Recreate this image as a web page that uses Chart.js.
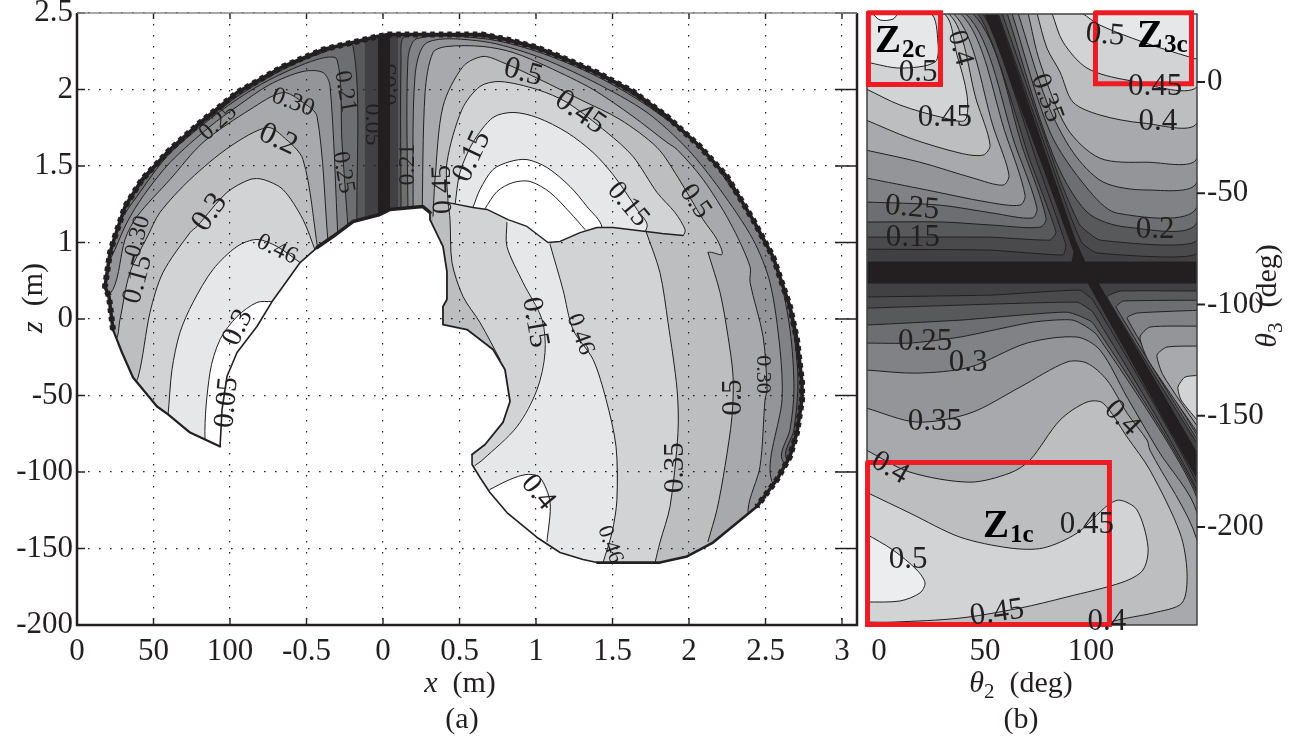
<!DOCTYPE html>
<html><head><meta charset="utf-8">
<style>html,body{margin:0;padding:0;background:#fff;width:1314px;height:740px;overflow:hidden}canvas{position:absolute;top:0}</style>
<script src="https://cdn.jsdelivr.net/npm/chart.js@4"></script>
</head><body>
<canvas id="a" width="862" height="740" style="left:0"></canvas>
<canvas id="b" width="452" height="740" style="left:862px"></canvas>
<script>
const greys=['#231f20','#414042','#58595b','#6d6e71','#808285','#939598','#a7a9ac','#bcbec0','#d1d3d4','#e6e7e8','#ffffff'];
const ink='#231f20', red='#ed1c24', serif="'Liberation Serif'";

/* ---- tick labels ---- */
const xTicksA=[-2,-1.5,-1,-.5,0,.5,1,1.5,2,2.5,3];
const xLabelsA=['0','50','100','-0.5','0','0.5','1','1.5','2','2.5','3'];
const yTicksA=[2.5,2,1.5,1,.5,0,-.5,-1,-1.5];
const yLabelsA=['2.5','2','1.5','1','0','-50','-100','-150','-200'];
const xTicksB=[0,50,100];
const yTicksB=[0,-50,-100,-150,-200];

/* ---- panel (a): workspace outline, x,z in metres ---- */
const edgeLowerLeft=[[-1.065,-.333],[-1.163,-.288],[-1.261,-.242],[-1.405,-.124],[-1.477,-.072],[-1.634,.118],[-1.706,.281],[-1.765,.431]];
const edgeOuter=[[-1.765,.431],[-1.791,.647],[-1.817,.712],[-1.784,.935],[-1.752,1.039],[-1.686,1.235],[-1.575,1.412],[-1.392,1.608],[-1.196,1.784],[-.954,1.98],[-.654,2.15],[-.392,2.261],[-.17,2.314],[-.039,2.346],[.033,2.359],[.654,2.359],[.81,2.327],[1.007,2.275],[1.203,2.196],[1.399,2.111],[1.634,1.987],[1.856,1.824],[2.072,1.627],[2.248,1.431],[2.418,1.15],[2.549,.908],[2.66,.582],[2.706,.366],[2.739,.085],[2.739,-.026],[2.706,-.242],[2.66,-.399],[2.575,-.549],[2.444,-.725]];
const edgeLowerRight=[[2.444,-.725],[2.157,-.961],[1.987,-1.052],[1.81,-1.092],[1.399,-1.092]];
const edgeBottom=[[1.399,-1.092],[1.307,-1.072],[1.157,-1.026],[1.007,-.928],[.81,-.765],[.699,-.634],[.634,-.536],[.582,-.451],[.582,-.386]];
const edgeInnerRight=[[.582,-.386],[.667,-.32],[.784,-.176],[.83,-.039],[.797,.17],[.719,.301],[.549,.431],[.392,.464],[.392,.582],[.418,.627],[.418,.81],[.392,.974],[.307,1.15],[.307,1.196]];
const edgeHoleTop=[[.307,1.196],[.261,1.235],[.046,1.216],[-.02,1.183],[-.196,1.137],[-.327,1.039],[-.431,.967]];
const edgeInnerLeft=[[-.431,.967],[-.542,.869],[-.654,.712],[-.725,.614],[-.824,.451],[-.954,.281],[-1.02,.124],[-1.052,-.092],[-1.065,-.333]];

/* ---- panel (a): contour levels, upper right sheet ---- */
const rF=[[.098,1.15],[.098,2.4],[3,2.4],[3,-1.4]];
const rG=[[.046,1.15],[.046,2.45],[3,2.45],[3,-1.4]];
const rE=[[.118,1.15],[.118,2.196],[.144,2.346],[.654,2.346],[1.007,2.261],[1.399,2.098],[1.634,1.967],[1.856,1.804],[2.105,1.569],[2.261,1.412],[2.431,1.137],[2.569,.876],[2.673,.484],[2.712,.105],[2.686,-.222],[2.634,-.405]];
const rD=[[.163,1.15],[.163,2.196],[.222,2.333],[.654,2.333],[1.007,2.248],[1.399,2.085],[1.745,1.882],[2.092,1.608],[2.248,1.399],[2.444,1.111],[2.575,.837],[2.66,.431],[2.686,.039],[2.66,-.222],[2.608,-.418]];
const rC=[[.196,1.15],[.209,2.085],[.288,2.307],[.654,2.314],[1.007,2.216],[1.373,2.052],[1.725,1.85],[1.993,1.608],[2.203,1.346],[2.418,1.02],[2.529,.739],[2.595,.301],[2.608,-.026],[2.542,-.562]];
const rB=[[.255,1.15],[.275,1.98],[.327,2.242],[.418,2.281],[.654,2.281],[.85,2.242],[1.072,2.15],[1.373,2],[1.634,1.824],[1.856,1.654],[1.922,1.608],[2.092,1.412],[2.268,1.131],[2.399,.843],[2.399,.739],[2.484,.386],[2.51,.039],[2.497,-.026],[2.464,-.464],[2.386,-.745]];
const topA=[[.327,1.17],[.34,1.412],[.392,1.889],[.523,2.15],[.654,2.216],[.784,2.176],[1.026,2.065],[1.288,1.935],[1.549,1.804],[1.791,1.621],[1.928,1.425],[2.092,1.15],[2.183,1.02],[2.216,.922],[2.124,.935]];
const topD=[[.425,1.261],[.418,1.523],[.516,1.869],[.634,2.02],[.765,2.052],[1.007,2],[1.203,1.915],[1.464,1.719],[1.634,1.562],[1.791,1.327],[1.908,1.196],[1.974,1.085],[1.961,1.046]];
const topE=[[.471,1.248],[.503,1.458],[.588,1.654],[.719,1.817],[.85,1.85],[1.007,1.817],[1.203,1.719],[1.373,1.588],[1.503,1.444],[1.66,1.216],[1.725,1.098]];
const topW=[[.588,1.229],[.634,1.346],[.719,1.477],[.83,1.529],[.941,1.542],[1.072,1.49],[1.222,1.366],[1.333,1.235],[1.431,1.098]];
const topInner=[[.667,1.222],[.745,1.333],[.85,1.392],[.961,1.399],[1.092,1.327],[1.222,1.196],[1.32,1.085]];

/* ---- panel (a): seam and lower sheet ---- */
const seam=[[.425,1.261],[.588,1.229],[.68,1.216],[.817,1.15],[.941,1.105],[1.078,1],[1.157,1.007],[1.288,1.065],[1.399,1.098],[1.503,1.098],[1.719,1.072],[1.824,1.059],[1.961,1.046]];
const low05=[[2.124,.935],[2.203,.673],[2.255,.386],[2.288,.124],[2.281,-.137],[2.235,-.464],[2.183,-.745],[2.124,-.954]];
const low035=[[1.719,1.072],[1.81,.804],[1.863,.477],[1.922,.039],[1.928,-.242],[1.876,-.725],[1.81,-.961],[1.778,-1.092]];
const low046=[[1.092,.987],[1.176,.693],[1.242,.431],[1.373,.235],[1.458,-.026],[1.523,-.333],[1.529,-.68],[1.497,-.895],[1.438,-1.092]];
const low015=[[.81,1.131],[.81,.974],[.915,.739],[1.039,.497],[1.059,.281],[1.007,.039],[.876,-.203],[.654,-.418],[.601,-.458]];
const lowFar=[[.425,1.261],[.438,1.15],[.451,.869],[.523,.647],[.634,.477],[.765,.235]];
const lowWhite=[[.699,-.614],[.83,-.549],[.941,-.516],[1.026,-.536],[1.092,-.699],[1.072,-.954]];

/* ---- panel (a): contour levels, left sheet ---- */
const c1=[[-.033,1.1],[-.033,2.45]];
const c2=[[-.118,1.1],[-.118,2.45]];
const c3=[[-.17,1.1],[-.196,2.281],[-.392,2.242],[-.654,2.131],[-.954,1.954],[-1.196,1.765],[-1.392,1.588],[-1.575,1.392],[-1.686,1.216],[-1.752,1.02]];
const c4=[[-.229,1.1],[-.268,1.654],[-.301,2.196],[-.431,2.196],[-.739,2.065],[-.954,1.935],[-1.176,1.771],[-1.412,1.562],[-1.608,1.301],[-1.719,1.131]];
const c5=[[-.294,1.02],[-.346,2.02],[-.392,2.111],[-.523,2.118],[-.739,2.033],[-.954,1.889],[-1.131,1.758],[-1.392,1.523],[-1.569,1.301],[-1.673,1.131],[-1.752,.954]];
const c6=[[-.359,1],[-.431,1.824],[-.523,1.915],[-.654,1.98],[-.869,1.869],[-1.176,1.654],[-1.392,1.412],[-1.608,1.17],[-1.686,1.02],[-1.765,.693]];
const c7=[[-.425,.95],[-.523,1.542],[-.654,1.693],[-.758,1.752],[-1,1.627],[-1.261,1.412],[-1.458,1.196],[-1.536,1.046],[-1.654,.804],[-1.719,.497],[-1.752,.366]];
const c8=[[-.44,.94],[-.523,1.15],[-.654,1.346],[-.784,1.412],[-.869,1.412],[-1.02,1.327],[-1.216,1.105],[-1.261,1.065],[-1.438,.804],[-1.523,.542],[-1.601,.118]];
const c46=[[-.542,.869],[-.693,.974],[-.824,1.02],[-.954,.974],[-1.111,.824],[-1.242,.608],[-1.327,.412],[-1.379,.17],[-1.405,-.124]];
const cW=[[-.725,.614],[-.824,.608],[-.954,.516],[-1.065,.366],[-1.131,.15],[-1.163,-.288]];

/* ---- panel (b): theta2, theta3 in degrees ---- */
const u0=[[-3.3,31],[.5,27.9],[6.6,28.3],[9,31]];
const u1=[[-6,9],[9.9,6.3],[26.4,9],[27.8,18],[24.1,31]];
const u2=[[-6,-3.1],[9.9,-10.3],[31.1,-16.2],[40.6,-17.1],[41.5,-5.8],[36.8,12.1],[30.2,31]];
const u3=[[-6,-17.1],[14.6,-25.2],[38.2,-31.9],[49.1,-32.8],[52.4,-28.3],[46.2,-9],[32.5,31]];
const u4=[[-6,-30.6],[19.3,-36],[44.3,-43.1],[58.5,-46.3],[61.3,-41.8],[54.7,-22.5],[34.9,31]];
const u5=[[-6,-43.1],[22.6,-48.5],[50.9,-53.9],[66.5,-55.3],[68.9,-50.8],[60.4,-25.2],[38.2,31]];
const u6=[[-6,-53.9],[28.8,-55.3],[53.8,-58.9],[72.2,-61.1],[74.5,-56.6],[65.1,-30.6],[40.6,31]];
const u7=[[-6,-62.9],[30.2,-62.9],[53.8,-64.3],[75.9,-65.2],[78.8,-61.1],[68.9,-32.8],[43.9,31]];
const u8=[[-6,-69.7],[52.4,-69.7],[80.7,-71],[83.5,-67.4],[71.2,-35.1],[46.2,31]];
const u9=[[-6,-75.1],[52.4,-75.5],[86.8,-77.7],[88.2,-73.3],[75,-37.3],[48.6,31]];
const u10=[[-6,-80.9],[91,-80.9],[92,-76.4],[75.9,-34.2],[50,31]];
const r0=[[95.8,31],[104.2,25.6],[124.5,18],[146.7,11.2],[150,10.8]];
const r1=[[81.6,31],[86.8,18],[98.1,6.3],[117,.9],[150,-2.2]];
const r2=[[74.5,31],[79.2,15.3],[85.4,4.5],[91.5,-9],[104.2,-14.8],[124.5,-18.4],[150,-18.4]];
const r3=[[70.3,31],[75.9,9],[88.7,-20.7],[104.2,-34.2],[126.4,-36],[150,-34.2]];
const r4=[[65.6,31],[79.2,-9],[91.5,-31.5],[105.7,-44.9],[126.4,-48.5],[150,-44.9]];
const r5=[[62.7,31],[80.7,-22.5],[98.1,-47.6],[112.3,-58.9],[150,-56.2]];
const r6=[[60.4,31],[82.1,-32.8],[98.1,-58.4],[117,-65.2],[150,-62.9]];
const r7=[[58,31],[85.4,-44],[94.8,-64.3],[104.2,-71],[150,-71]];
const r8=[[56.1,31],[89.2,-57.5],[95.8,-72.4],[102.8,-76.8],[150,-76.8]];
const r9=[[55.7,31],[92.5,-71],[97.2,-80.9],[150,-80.9]];
const k0=[[152,-170],[103.3,-90.3],[152,-90.3]];
const k1=[[152,-165.4],[107.5,-96.6],[113.7,-93.9],[152,-93.9]];
const k2=[[152,-163.6],[111.8,-101.1],[115.1,-98.4],[152,-98]];
const k3=[[152,-161.8],[117,-106.1],[121.7,-103.8],[152,-102.5]];
const k4=[[152,-160],[126.9,-124.9],[123.1,-114.6],[127.8,-110.1],[152,-109.7]];
const k5=[[152,-157.3],[134,-131.7],[131.1,-122.7],[135.8,-119.1],[152,-118.6]];
const k6=[[152,-154.1],[142.5,-142.9],[141,-137.1],[144.3,-132.6],[152,-131.7]];
const m1=[[-6,-90.3],[98.6,-90.3],[150,-178]];
const m2=[[-6,-96.6],[53.8,-95.7],[94.8,-93.5],[100.9,-98],[150,-181]];
const m3=[[-6,-101.6],[93.4,-98.9],[100.9,-103.4],[150,-183.8]];
const m4=[[-6,-109.2],[38.2,-107],[88.7,-103.4],[100.9,-108.3],[150,-185.2]];
const m5=[[-6,-117.3],[14.6,-117.3],[38.2,-114.6],[72.6,-107.9],[91.5,-107],[102.8,-113.7],[150,-186.9]];
const m6=[[-6,-129.4],[17.9,-130.8],[42.9,-128.1],[69.8,-117.3],[93.4,-114.6],[104.2,-120.4],[117,-141.6],[131.6,-165.4],[150,-193.7]];
const m7=[[-6,-146.5],[17.9,-152.8],[42.9,-148.8],[66.5,-137.1],[88.7,-125.8],[98.1,-126.3],[107.5,-133.9],[117,-148.8],[126.4,-160.9],[127.8,-165.4],[150,-205.8]];
const m8=[[-6,-165.4],[14.6,-175.3],[42.9,-179.8],[61.8,-175.7],[71.2,-169.9],[85.4,-151.9],[98.1,-143.8],[105.7,-144.3],[117,-159.5],[127.8,-174.4],[142,-202.7],[145.3,-220.7],[142.9,-234.1],[129.3,-238.6],[117,-240.9],[108,-243.1],[104.2,-246.3],[-6,-246.3]];
const m9=[[-6,-184.3],[14.6,-193.7],[38.2,-204.5],[61.8,-209.4],[77.4,-209.4],[93.4,-202.7],[108,-190.1],[113.7,-187.9],[121.7,-192.3],[126.9,-209],[124.5,-219.3],[115.1,-224.7],[88.7,-231.4],[66.5,-236.4],[38.2,-240.9],[6.6,-242.7],[-6,-242.7]];
const m10=[[-6,-203.1],[6.6,-210.3],[17.9,-219.3],[21.7,-225.1],[19.3,-229.6],[9.9,-233.2],[-6,-233.7]];
const boxZ2=[[-5,31.2],[29,31.2],[29,-1.1],[-5,-1.1],[-5,31.2]];
const boxZ3=[[102.1,31.2],[147.4,31.2],[147.4,-.7],[102.1,-.7],[102.1,31.2]];
const boxZ1=[[-5.4,-171],[108.7,-171],[108.7,-243.8],[-5.4,-243.8],[-5.4,-171]];

/* ---- contour labels: text, x, y, rotation, size ---- */
const labelsA=[['0.25',-1.078,1.784,-42,24],['0.30',-.588,1.915,20,25],['0.2',-.686,1.673,25,31],['0.21',-.248,1.987,80,24],['0.05',-.072,1.771,90,24],['0.05',.046,2.033,-90,24],['0.25',-.261,1.458,80,24],['0.21',.163,1.51,-90,24],['0.3',-1.131,1.196,-55,31],['0.30',-1.601,1.039,-75,24],['0.15',-1.601,.758,-75,28],['0.46',-.693,.954,25,24],['0.3',-.948,.444,-65,29],['0.05',-1.02,-.046,-85,29],['0.5',.915,2.111,15,31],['0.45',1.288,1.85,35,31],['0.15',.582,1.562,-65,30],['0.45',.392,1.346,-92,28],['0.15',1.601,1.248,50,28],['0.5',2.039,1.268,55,28],['0.30',2.484,.137,90,22],['0.5',2.288,-.013,-90,29],['0.35',1.908,-.471,-90,29],['0.15',.993,.477,80,29],['0.46',1.288,.399,70,24],['0.4',1.013,-.634,50,29],['0.46',1.484,-.974,70,22]];
const labelsB=[['0.4',38.2,15.3,75,28],['0.5',18.4,4,0,31],['0.45',31.1,-16.2,0,31],['0.35',79.2,-7.2,70,28],['0.5',106.6,21.1,5,31],['0.45',130.2,-2.2,0,31],['0.4',131.6,-18,0,31],['0.25',15.6,-56.6,5,31],['0.15',16,-70.1,0,31],['0.2',130.2,-66.5,0,31],['0.25',21.7,-116.8,0,31],['0.3',42,-126.3,0,31],['0.35',26.4,-152.8,0,31],['0.4',114.6,-151,45,30],['0.4',5.2,-173.5,30,30],['0.45',98.1,-199.1,0,31],['0.5',13.7,-214.8,0,31],['0.45',55.7,-238.6,-8,31],['0.4',107.5,-242.7,0,31]];
const zones=[['Z','2c',-1.9,13.5],['Z','3c',121.7,15.7],['Z','1c',49.1,-204.5]];

const pts=a=>a.map(p=>({x:p[0],y:p[1]}));
const rev=a=>a.slice().reverse();
const smooth=0.3;
const band=(a,col,bw=1,t=smooth)=>({data:pts(a),showLine:true,pointRadius:0,tension:t,capBezierPoints:false,fill:'shape',backgroundColor:col,borderColor:ink,borderWidth:bw,borderJoinStyle:'round'});
const line=(a,w=1,col=ink,t=smooth)=>({data:pts(a),showLine:true,pointRadius:0,tension:t,capBezierPoints:false,fill:false,borderColor:col,borderWidth:w,borderJoinStyle:'round',borderCapStyle:'round'});
const straight=(a,w)=>line(a,w,ink,0);

const shape=[...edgeLowerLeft,...edgeOuter.slice(1),...edgeLowerRight.slice(1),...edgeBottom.slice(1),...edgeInnerRight.slice(1),...edgeHoleTop.slice(1),...edgeInnerLeft.slice(1)];
const rect=[[-2.2,-1.7],[3.3,-1.7],[3.3,2.7],[-2.2,2.7],[-2.2,-1.7]];
const mask=[...rect,...shape,shape[0],rect[0]];
const closeR=[[2.9,-.8],[2.5,-1.4],[.6,-1.4],[.4,.1]];
const closeL=[[-1.95,.5],[-1.95,-.5],[-1,-.6],[-.5,.3]];
const closeTop=[[1.4,.6],[.3,.6]];

const layersA=[
 band(shape,greys[0],0,0),
 band([...rG,...closeR.slice(2)],greys[1],0,0),
 band([...rF,...closeR.slice(2)],greys[2],0,0),
 band([...rE,...closeR],greys[3]),
 band([...rD,...closeR],greys[4]),
 band([...rC,...closeR],greys[5]),
 band([...rB,[2.4,-1.4],[.6,-1.4],[.4,.1]],greys[6]),
 band([...c1,[-1.95,2.45],[-1.95,-.5],[-1,-.6],[-.5,.3]],greys[1],0,0),
 band([...c2,[-1.95,2.45],[-1.95,-.5],[-1,-.6],[-.5,.3]],greys[2],0,0),
 band([...c3,...closeL],greys[3]),
 band([...c4,...closeL],greys[4]),
 band([...c5,...closeL],greys[5]),
 band([...c6,...closeL],greys[6]),
 band([...c7,...closeL],greys[7]),
 band([...c8,[-1.7,-.1],[-1,-.6],[-.5,.3]],greys[8]),
 band([...c46,[-1.45,-.5],[-1,-.6],[-.5,.3]],greys[9]),
 band([...cW,[-1.1,-.6],[-1,-.6],[-.5,.3]],greys[10]),
 band([...topA,...closeTop],greys[7]),
 band([...topD,...closeTop],greys[8]),
 band([...topE,...closeTop],greys[9]),
 band([...topW,...closeTop],greys[10]),
 line(topInner),
 band([...seam,...low05,[2.1,-1.4],[.6,-1.4],[.4,.1],[.3,1.1]],greys[7],0,0),
 band([...seam.slice(0,11),...low035.slice(1),[1.7,-1.4],[.6,-1.4],[.55,-.6],[.6,-.3],[.7,.1],...rev(lowFar)],greys[8],0,0),
 band([...low015,[.55,-.6],[.6,-1.4],[1.438,-1.4],...rev(low046),[1.078,1],[.941,1.105],[.817,1.15]],greys[9],0,0),
 band([...lowWhite,[.93,-1.3],[.45,-.97]],greys[10],0,0),
 line(low05),line(low035),line(low046),line(low015),line(lowFar),line(lowWhite),straight(seam,1.4),
 band(mask,'#ffffff',0,0),
 straight(edgeOuter,3.5),
 {...straight(edgeOuter,6),borderDash:[4.5,4],borderCapStyle:'butt'},
 straight(edgeLowerRight,2.6),straight(edgeLowerLeft,2.2),straight(edgeBottom,1.6),straight(edgeInnerRight,1.8),straight(edgeHoleTop,3.5),straight(edgeInnerLeft,1.6)
].reverse();

const cTL=[[-10,35]], cTR=[[155,35]], cB=[[155,-255],[-10,-255]];
const frameB=[[-5.66,30.6],[150,30.6],[150,-244],[-5.66,-244],[-5.66,30.6]];
const layersB=[
 band([[-10,35],[155,35],[155,-255],[-10,-255]],greys[0],0,0),
 band([...u10,...cTL],greys[1],1,0),band([...u9,...cTL],'#4a4a4c',1,.12),band([...u8,...cTL],greys[2],1,.15),band([...u7,...cTL],greys[3]),band([...u6,...cTL],greys[4]),band([...u5,...cTL],greys[5]),band([...u4,...cTL],greys[6]),band([...u3,...cTL],greys[7]),band([...u2,...cTL],greys[8]),band([...u1,...cTL],greys[9]),band(u0,greys[10]),
 band([...r9,...cTR],greys[1],1,0),band([...r8,...cTR],'#4a4a4c',1,.12),band([...r7,...cTR],greys[2],1,.15),band([...r6,...cTR],greys[3]),band([...r5,...cTR],greys[4]),band([...r4,...cTR],greys[5]),band([...r3,...cTR],greys[6]),band([...r2,...cTR],greys[7]),band([...r1,...cTR],greys[8]),band([...r0,...cTR],greys[9]),
 band(k0,greys[1],1,0),band(k1,greys[2],1,.1),band(k2,greys[3],1,.1),band(k3,greys[4],1,.15),band(k4,greys[5],1,.2),band(k5,greys[6],1,.2),band(k6,greys[8],1,.2),
 band([...m1,...cB],greys[1],1,0),band([...m2,...cB],'#4a4a4c',1,.12),band([...m3,...cB],greys[2],1,.12),band([...m4,...cB],greys[3],1,.15),band([...m5,...cB],greys[4],1,.2),band([...m6,...cB],greys[5]),band([...m7,...cB],greys[6]),band(m8,greys[7]),band(m9,greys[8]),band(m10,'#ecedef'),
 {...line(frameB,1.5,'#414042',0),clip:false},
 {...line(boxZ2,5,red,0),clip:false,borderJoinStyle:'miter'},
 {...line(boxZ3,5,red,0),clip:false,borderJoinStyle:'miter'},
 {...line(boxZ1,5,red,0),clip:false,borderJoinStyle:'miter'}
].reverse();

function runs(ctx,list,x,y,rot){
  ctx.save();ctx.translate(x,y);ctx.rotate(rot*Math.PI/180);ctx.textBaseline='alphabetic';ctx.textAlign='left';ctx.fillStyle=ink;
  let w=0;list.forEach(r=>{ctx.font=r.f;w+=ctx.measureText(r.t).width});
  let cx=-w/2;list.forEach(r=>{ctx.font=r.f;ctx.fillText(r.t,cx,r.dy||0);cx+=ctx.measureText(r.t).width});
  ctx.restore();
}
const roman=`30px ${serif}`, ital=`italic 30px ${serif}`, small=`21px ${serif}`;
const overlay=(labels,extra)=>({id:'overlay',afterDraw(chart){
  const ctx=chart.ctx,sx=chart.scales.x,sy=chart.scales.y;
  extra(ctx,chart,sx,sy);
  ctx.fillStyle=ink;ctx.textAlign='center';ctx.textBaseline='middle';
  labels.forEach(([t,x,y,r,s])=>{ctx.save();ctx.translate(sx.getPixelForValue(x),sy.getPixelForValue(y));ctx.rotate(r*Math.PI/180);ctx.font=`${s}px ${serif}`;ctx.fillText(t,0,0);ctx.restore()});
}});

const dots=[1.6,9.4];
const mkX=(min,max,vals,labs,grid,border)=>({type:'linear',position:'bottom',min,max,
  afterBuildTicks:s=>{s.ticks=vals.map(v=>({value:v}))},
  afterFit:s=>{s.height=115;s.paddingLeft=s.paddingRight=s.paddingTop=s.paddingBottom=0},
  grid:grid,border:border,
  ticks:{autoSkip:false,maxRotation:0,padding:8,color:ink,font:{family:'Liberation Serif',size:31},callback:(v,i)=>labs[i]}});

new Chart(document.getElementById('a'),{type:'scatter',data:{datasets:layersA},
 options:{responsive:false,animation:false,events:[],layout:{padding:{left:0,top:13,right:5,bottom:0}},
  plugins:{legend:{display:false},tooltip:{enabled:false}},
  scales:{
   x:mkX(-2,3.098,xTicksA,xLabelsA,{z:1,color:ink,lineWidth:1.2,drawTicks:false},{display:false,dash:dots}),
   y:{type:'linear',position:'left',min:-1.5,max:2.5,
    afterBuildTicks:s=>{s.ticks=yTicksA.map(v=>({value:v}))},
    afterFit:s=>{s.width=77;s.paddingLeft=s.paddingRight=s.paddingTop=s.paddingBottom=0},
    grid:{z:1,color:ink,lineWidth:1.2,drawTicks:false},border:{display:false,dash:dots},
    ticks:{autoSkip:false,padding:4,color:ink,font:{family:'Liberation Serif',size:31},callback:(v,i)=>yLabelsA[i]}}
  }},
 plugins:[overlay(labelsA,(ctx,c,sx,sy)=>{
   const a=c.chartArea;ctx.setLineDash([]);ctx.strokeStyle=ink;ctx.lineWidth=1.4;ctx.beginPath();
   xTicksA.forEach(v=>{const p=sx.getPixelForValue(v);ctx.moveTo(p,a.bottom);ctx.lineTo(p,a.bottom-7);ctx.moveTo(p,a.top);ctx.lineTo(p,a.top+6)});
   yTicksA.forEach(v=>{const p=sy.getPixelForValue(v);ctx.moveTo(a.left,p);ctx.lineTo(a.left+8,p);ctx.moveTo(a.right,p);ctx.lineTo(a.right-22,p)});
   ctx.stroke();
   ctx.lineWidth=2.5;ctx.beginPath();ctx.moveTo(a.left,a.top);ctx.lineTo(a.left,a.bottom);ctx.lineTo(a.right,a.bottom);ctx.lineTo(a.right,a.top);ctx.stroke();
   ctx.strokeStyle='#8a8a8a';ctx.lineWidth=1.5;ctx.beginPath();ctx.moveTo(a.left,a.top);ctx.lineTo(a.right,a.top);ctx.stroke();
   runs(ctx,[{t:'x',f:ital},{t:'  (m)',f:roman}],460,692,0);
   runs(ctx,[{t:'(a)',f:roman}],462,728,0);
   runs(ctx,[{t:'z',f:ital},{t:'  (m)',f:roman}],42,298,-90);
 })]
});

new Chart(document.getElementById('b'),{type:'scatter',data:{datasets:layersB},
 options:{responsive:false,animation:false,events:[],layout:{padding:{left:5,top:14,right:0,bottom:0}},
  plugins:{legend:{display:false},tooltip:{enabled:false}},
  scales:{
   x:mkX(-5.66,150,xTicksB,xTicksB.map(String),{display:false,drawTicks:false},{display:false}),
   y:{type:'linear',position:'right',min:-244,max:30.6,
    afterBuildTicks:s=>{s.ticks=yTicksB.map(v=>({value:v}))},
    afterFit:s=>{s.width=117;s.paddingLeft=s.paddingRight=s.paddingTop=s.paddingBottom=0},
    grid:{display:false,drawTicks:false},border:{display:false},
    ticks:{autoSkip:false,padding:10,crossAlign:'near',color:ink,font:{family:'Liberation Serif',size:31},callback:(v,i)=>String(yTicksB[i])}}
  }},
 plugins:[overlay(labelsB,(ctx,c,sx,sy)=>{
   const a=c.chartArea,o=862;ctx.strokeStyle=ink;ctx.lineWidth=2;ctx.beginPath();
   yTicksB.forEach(v=>{const p=sy.getPixelForValue(v);ctx.moveTo(a.right,p);ctx.lineTo(a.right+8,p)});ctx.stroke();
   runs(ctx,[{t:'θ',f:ital},{t:'2',f:small,dy:6},{t:'  (deg)',f:roman}],1021-o,692,0);
   runs(ctx,[{t:'(b)',f:roman}],1021-o,728,0);
   runs(ctx,[{t:'θ',f:ital},{t:'3',f:small,dy:6},{t:'  (deg)',f:roman}],1276-o,296,-90);
   zones.forEach(([z,s,x,y])=>{ctx.save();ctx.textAlign='left';ctx.textBaseline='alphabetic';ctx.fillStyle='#000';
     const px=sx.getPixelForValue(x),py=sy.getPixelForValue(y);
     ctx.font=`bold 39px ${serif}`;ctx.fillText(z,px,py);const w=ctx.measureText(z).width;
     ctx.font=`bold 25px ${serif}`;ctx.fillText(s,px+w+1,py+5);ctx.restore()});
 })]
});
</script>
</body></html>
